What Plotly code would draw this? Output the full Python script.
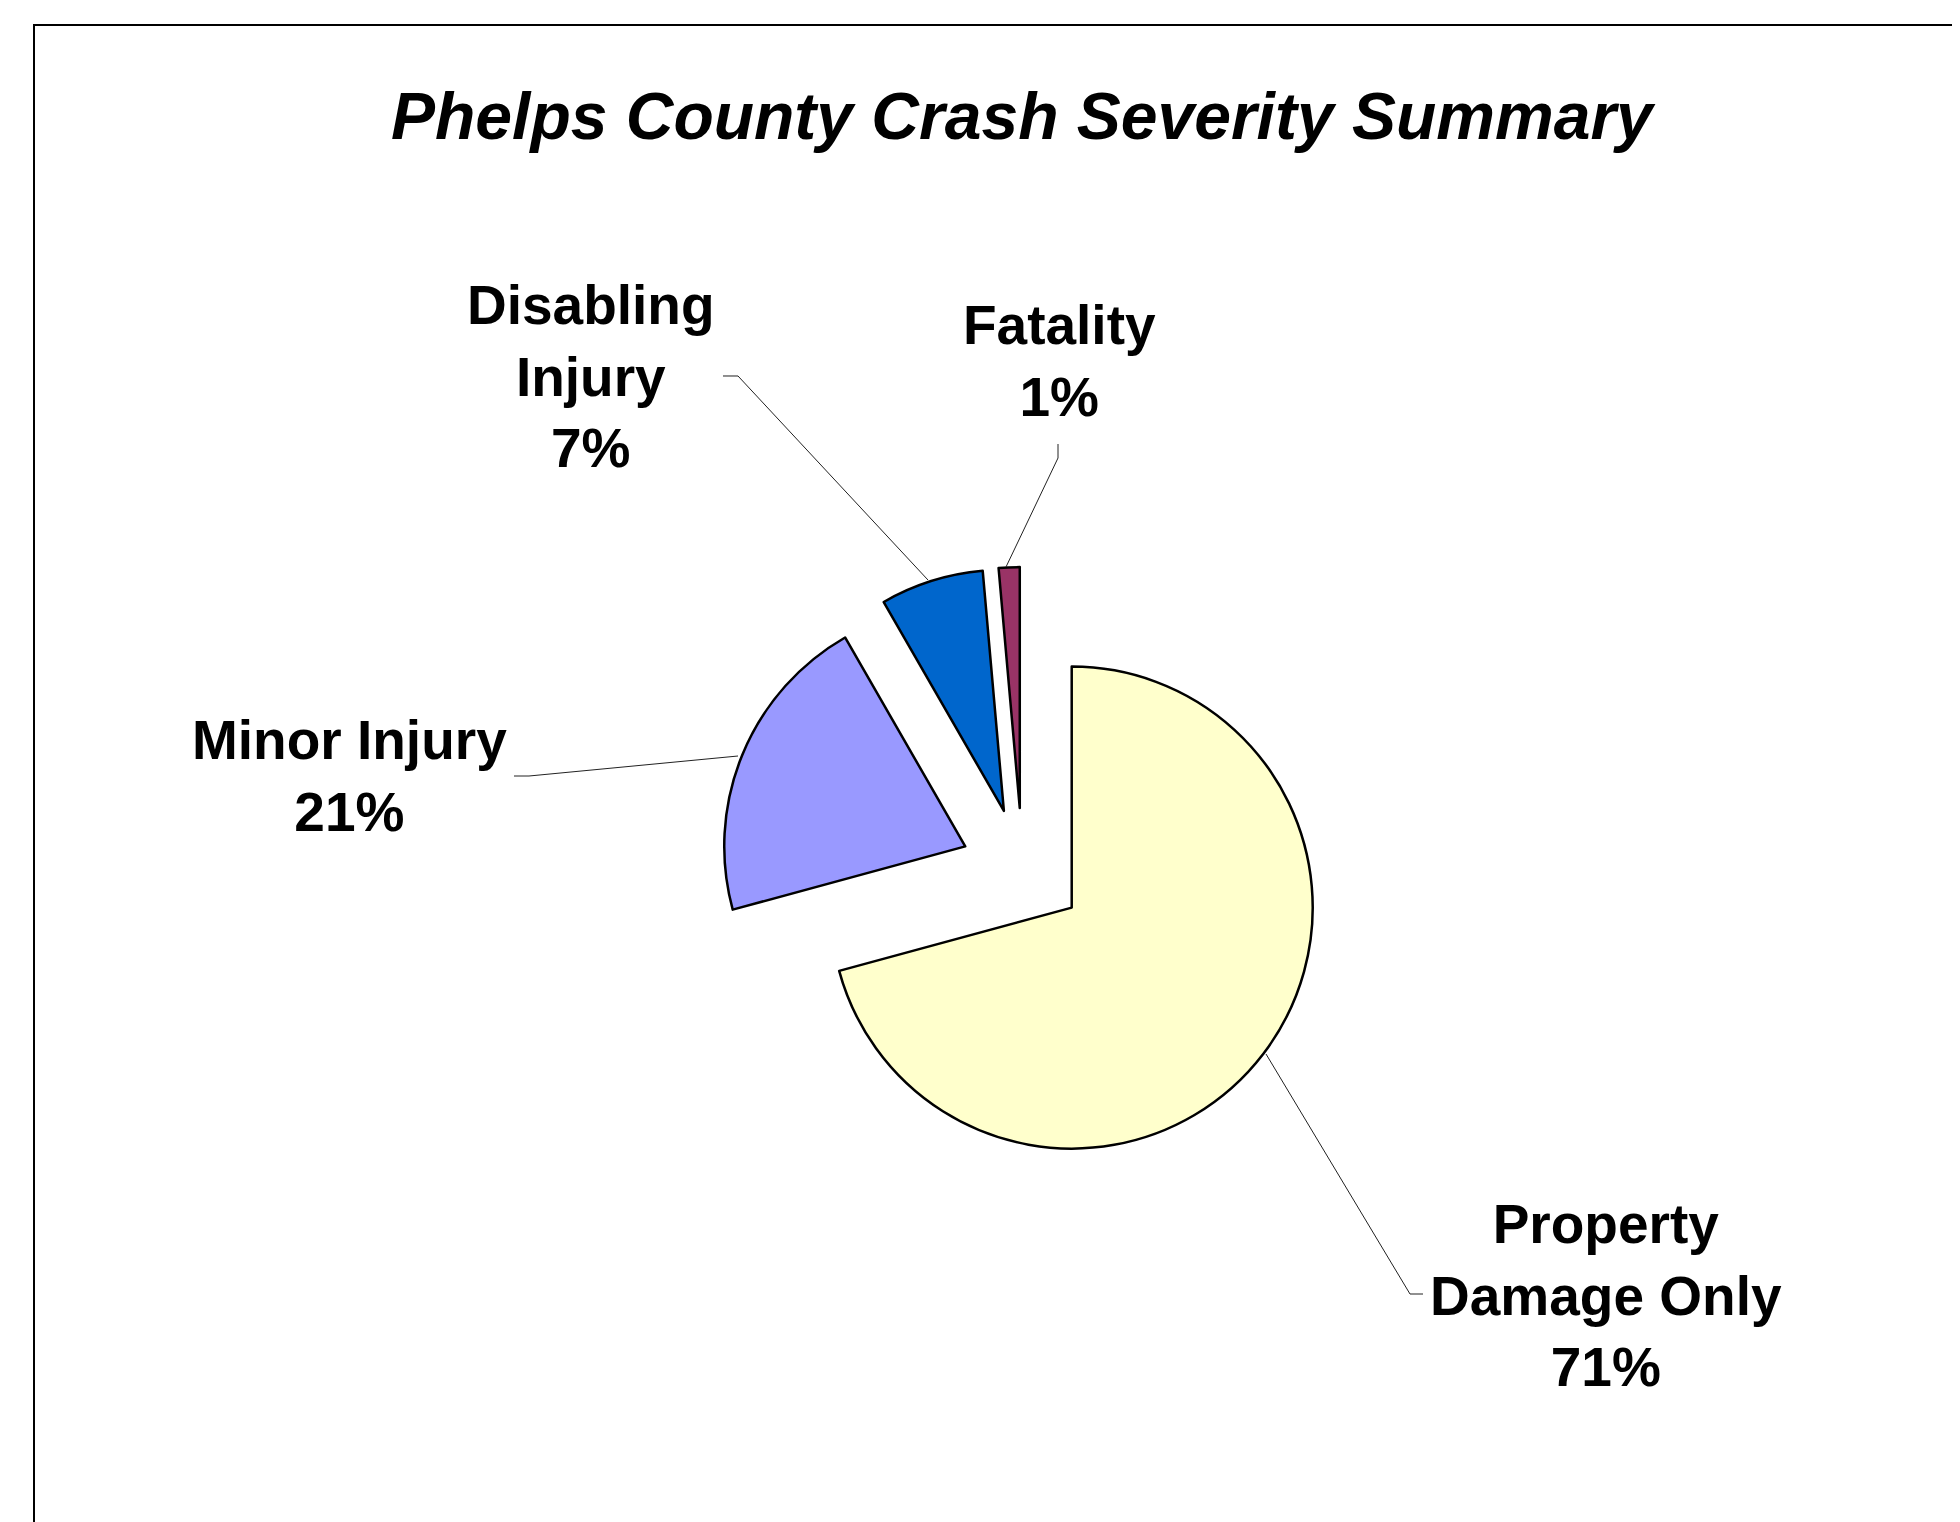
import plotly.graph_objects as go

# the page body has an 8px margin, so the figure sits at (8, 8) in the window
OFF = 8
W, H = 1960 - OFF, 1522 - OFF

# slice data (share of crashes, %)
categories = ['Property Damage Only', 'Minor Injury', 'Disabling Injury', 'Fatality']
values = [70.7, 20.9, 6.9, 1.4]
colors = ['#FFFFCC', '#9999FF', '#0066CC', '#993366']
label_lines = [['Property', 'Damage Only'], ['Minor Injury'], ['Disabling', 'Injury'], ['Fatality']]

FONT = 'Liberation Sans, Arial, sans-serif'
PULL = 0.257


def px(x, y):
    # window pixel position -> paper coordinates
    return (x - OFF) / W, 1 - (y - OFF) / H


total = sum(values)
pct = [f"{round(v / total * 100)}%" for v in values]

# pie box: centre and radius in window pixels
pie_cx, pie_cy, pie_r = 1022.5, 870, 241
half = pie_r * (1 + PULL)
dx0, dy1 = px(pie_cx - half, pie_cy - half)
dx1, dy0 = px(pie_cx + half, pie_cy + half)

fig = go.Figure(go.Pie(
    labels=categories,
    values=values,
    sort=False,
    direction='clockwise',
    rotation=0,
    pull=[PULL] * len(values),
    marker=dict(colors=colors, line=dict(color='black', width=2.5)),
    textinfo='none',
    hoverinfo='label+percent',
    domain=dict(x=[dx0, dx1], y=[dy0, dy1]),
    showlegend=False,
))

# label positions (pixel centres) and leader lines
label_pos = [(1606, 1295), (349, 776), (591, 376), (1059, 361)]
leaders = [
    [(1423, 1294), (1410, 1294), (1266, 1054)],
    [(514, 776), (529, 776), (738, 756)],
    [(723, 376), (738, 376), (928, 580)],
    [(1058, 444), (1058, 458), (1006, 567)],
]

annotations = []
for lines, p, (cx, cy) in zip(label_lines, pct, label_pos):
    ax, ay = px(cx, cy)
    annotations.append(dict(
        text='<br>'.join(lines + [p]), x=ax, y=ay, xref='paper', yref='paper',
        xanchor='center', yanchor='middle', showarrow=False, align='center',
        font=dict(family=FONT, size=55, color='black', weight='bold'),
    ))

tx, ty = px(1023, 116)
annotations.append(dict(
    text='Phelps County Crash Severity Summary', x=tx, y=ty, xref='paper', yref='paper',
    xanchor='center', yanchor='middle', showarrow=False,
    font=dict(family=FONT, size=66, color='black', weight='bold', style='italic'),
))

shapes = []
for pts in leaders:
    path = 'M ' + ' L '.join(f"{px(x, y)[0]:.5f},{px(x, y)[1]:.5f}" for x, y in pts)
    shapes.append(dict(type='path', path=path, xref='paper', yref='paper',
                       line=dict(color='#222222', width=1)))

# chart area frame (runs off the right and bottom edges)
x0, y1 = px(34, 25)
shapes.append(dict(type='rect', xref='paper', yref='paper', x0=x0, x1=1.02, y0=-0.02, y1=y1,
                   line=dict(color='black', width=2), fillcolor='rgba(0,0,0,0)'))

fig.update_layout(
    width=W, height=H,
    margin=dict(l=0, r=0, t=0, b=0),
    paper_bgcolor='white',
    plot_bgcolor='white',
    annotations=annotations,
    shapes=shapes,
)

fig.write_html("out.html")
